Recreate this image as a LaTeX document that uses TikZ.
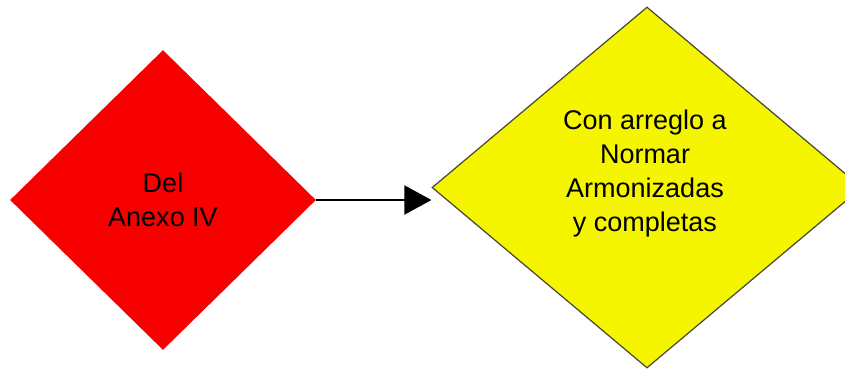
\documentclass[tikz,border=0pt]{standalone}
\usepackage{fontspec}
\setmainfont{Liberation Sans}
\usetikzlibrary{shapes.geometric,arrows.meta}
\definecolor{rojo}{RGB}{247,0,0}
\definecolor{amarillo}{RGB}{245,245,0}
\definecolor{borde}{RGB}{70,70,50}
\tikzset{ % common looks of the two decision boxes
	decision/.style={
		diamond, inner sep=0pt, align=center,
		font=\fontsize{13.5}{17}\selectfont
	},
	flecha/.style={-{Triangle[length=13.5pt,width=14.5pt]}, line width=1pt}
}

\begin{document}
\begin{tikzpicture}[x=0.5pt,y=-0.5pt]
		\useasboundingbox (0,0) rectangle (845,371);
		% Decision boxes
		\node [decision, fill=rojo, minimum width=153pt, minimum height=150pt] (anexo) at (163,200) {Del\\Anexo IV};
		\node [decision, fill=amarillo, draw=borde, line width=0.6pt, minimum width=215pt, minimum height=180.5pt] (normas) at (647,187.5) {};
		\node [decision] (normastxt) at (645,174) {Con arreglo a\\Normar\\Armonizadas\\y completas};
		% Connector
		\draw [flecha] (anexo.east) -- (anexo.east -| normas.west);
\end{tikzpicture}
\end{document}
